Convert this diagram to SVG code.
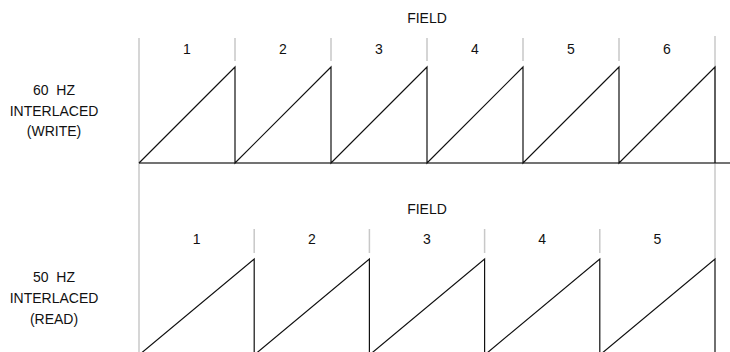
<svg xmlns="http://www.w3.org/2000/svg" width="730" height="352" viewBox="0 0 730 352">
<style>
text{font-family:"Liberation Sans",Arial,sans-serif;font-size:14px;fill:#111;text-anchor:middle;white-space:pre}
.grid{stroke:#c8c8c8;stroke-width:1.5;fill:none}
.base{stroke:#444;stroke-width:1.6;fill:none}
.saw{stroke:#111;stroke-width:1.2;fill:none;stroke-linejoin:miter}
</style>
<rect width="730" height="352" fill="#fff"/>
<g id="grid">
<line class="grid" x1="139" y1="38" x2="139" y2="352"/>
<line class="grid" x1="715" y1="36" x2="715" y2="259"/>
<path class="grid" d="M235 38V61M331 38V61M427 38V61M523 38V61M619 38V61"/>
<path class="grid" d="M254.2 229V253M369.4 229V253M484.6 229V253M599.8 229V253"/>
</g>
<g id="top-labels">
<text x="427" y="23">FIELD</text>
<text x="187" y="54">1</text>
<text x="283" y="54">2</text>
<text x="379" y="54">3</text>
<text x="475" y="54">4</text>
<text x="571" y="54">5</text>
<text x="667" y="54">6</text>
<text x="54" y="95">60  HZ</text>
<text x="54" y="116">INTERLACED</text>
<text x="54" y="136">(WRITE)</text>
</g>
<g id="top-wave">
<line class="base" x1="139" y1="163" x2="730" y2="163"/>
<polyline class="saw" points="139,163 235,67 235,163 331,67 331,163 427,67 427,163 523,67 523,163 619,67 619,163 715,67 715,163"/>
</g>
<g id="bottom-labels">
<text x="427" y="214">FIELD</text>
<text x="196.6" y="244">1</text>
<text x="311.8" y="244">2</text>
<text x="427" y="244">3</text>
<text x="542.2" y="244">4</text>
<text x="657.4" y="244">5</text>
<text x="54" y="282">50  HZ</text>
<text x="54" y="303">INTERLACED</text>
<text x="54" y="324">(READ)</text>
</g>
<g id="bottom-wave">
<polyline class="saw" points="139,355 254.2,259 254.2,355 369.4,259 369.4,355 484.6,259 484.6,355 599.8,259 599.8,355 715,259 715,355"/>
</g>
</svg>
